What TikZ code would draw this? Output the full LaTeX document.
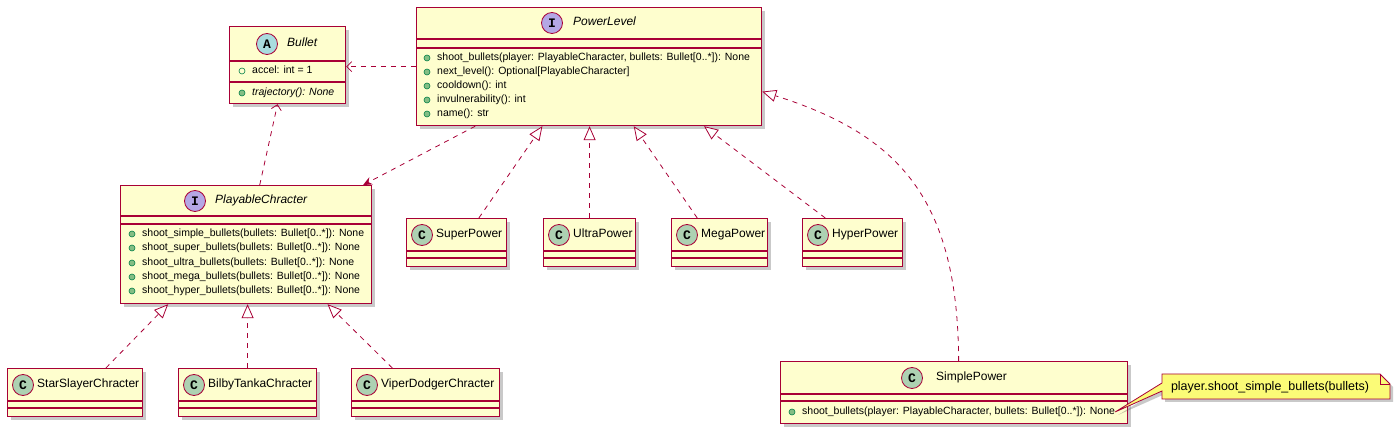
\documentclass[tikz,border=0pt]{standalone}
\usepackage{fontspec}
\setmainfont{Liberation Sans}
\newfontfamily\iconfont{Liberation Mono}
\usetikzlibrary{arrows.meta,calc,shadows}

\definecolor{umlred}{HTML}{A80036}
\definecolor{umlbg}{HTML}{FEFECE}
\definecolor{notebg}{HTML}{FBFB77}
\definecolor{iconC}{HTML}{ADD1B2}
\definecolor{iconA}{HTML}{A9DCDF}
\definecolor{iconI}{HTML}{B4A7E5}
\definecolor{pubfill}{HTML}{84BE84}
\definecolor{publine}{HTML}{038048}

\tikzset{
  cls/.style={draw=umlred, fill=umlbg, line width=1.2pt, inner sep=0pt, anchor=north west,
    drop shadow={shadow xshift=3pt, shadow yshift=-3pt, opacity=0.3, fill=black!70}},
  sepline/.style={draw=umlred, line width=1.2pt},
  icon/.style={circle, draw=umlred, line width=0.8pt, minimum size=21pt, inner sep=0pt,
    font=\iconfont\bfseries\fontsize{13}{13}\selectfont},
  title/.style={anchor=mid west, inner sep=0pt, font=\fontsize{12}{14}\selectfont},
  ititle/.style={title, font=\fontsize{12}{14}\selectfont\itshape},
  member/.style={anchor=mid west, inner sep=0pt, font=\fontsize{10.5}{12}\selectfont},
  pub/.style={circle, draw=publine, fill=pubfill, line width=0.6pt, minimum size=6pt, inner sep=0pt},
  field/.style={circle, draw=publine, fill=umlbg, line width=0.6pt, minimum size=6pt, inner sep=0pt},
  dep/.style={umlred, line width=0.8pt, dash pattern=on 5pt off 5pt, -{Straight Barb[length=5pt,width=10pt]}},
  depfill/.style={umlred, line width=0.8pt, dash pattern=on 5pt off 5pt, -{Stealth[length=9pt,width=8pt,inset=3pt]}},
  realize/.style={umlred, line width=0.8pt, dash pattern=on 5pt off 5pt, -{Triangle[length=14pt,width=12pt,fill=white]}},
  notebox/.style={draw=umlred, fill=notebg, line width=0.8pt,
    drop shadow={shadow xshift=3pt, shadow yshift=-3pt, opacity=0.3, fill=black!70}},
  notetext/.style={inner sep=0pt, font=\fontsize{12.5}{14}\selectfont},
}

\def\classbox(#1)(#2,#3)(#4,#5)(#6,#7){%
  \node[cls, minimum width={(#4-#2)*1pt}, minimum height={(#5-#3)*1pt}] (#1) at (#2,#3) {};
  \draw[sepline] (#2,#6) -- (#4,#6);
  \draw[sepline] (#2,#7) -- (#4,#7);
}
\def\pubmethod(#1)(#2,#3)#4{%
  \node[pub] (#1-d) at (#2,#3) {};
  \node[member] (#1) at (#2+10,#3) {#4};
}

\begin{document}
\begin{tikzpicture}[x=1pt, y=-1pt]
			%%%%% START %%%%%
			\useasboundingbox (0,0) rectangle (1395,435);
			
			% Bullet
			\classbox(bullet)(229,26)(345,103)(61,82)
			\node[icon, fill=iconA] (bullet-i) at (267,44) {A};
			\node[ititle] (bullet-t) at (287,44) {Bullet};
			\node[field] (bullet-f1-d) at (242,71) {};
			\node[member] (bullet-f1) at (252,71) {accel: int = 1};
			\pubmethod(bullet-m1)(242,93){\itshape trajectory(): None}
			
			% PowerLevel
			\classbox(pl)(416,7)(761,125)(39,48)
			\node[icon, fill=iconI] (pl-i) at (552,23) {I};
			\node[ititle] (pl-t) at (573,23) {PowerLevel};
			\pubmethod(pl-m1)(427,58){shoot\_bullets(player: PlayableCharacter, bullets: Bullet[0..*]): None}
			\pubmethod(pl-m2)(427,72){next\_level(): Optional[PlayableCharacter]}
			\pubmethod(pl-m3)(427,86){cooldown(): int}
			\pubmethod(pl-m4)(427,100){invulnerability(): int}
			\pubmethod(pl-m5)(427,114){name(): str}
			
			% PlayableChracter
			\classbox(plc)(120,185)(371,303)(216,224)
			\node[icon, fill=iconI] (plc-i) at (195,201) {I};
			\node[ititle] (plc-t) at (215,201) {PlayableChracter};
			\pubmethod(plc-m1)(132,234){shoot\_simple\_bullets(bullets: Bullet[0..*]): None}
			\pubmethod(plc-m2)(132,248){shoot\_super\_bullets(bullets: Bullet[0..*]): None}
			\pubmethod(plc-m3)(132,263){shoot\_ultra\_bullets(bullets: Bullet[0..*]): None}
			\pubmethod(plc-m4)(132,277){shoot\_mega\_bullets(bullets: Bullet[0..*]): None}
			\pubmethod(plc-m5)(132,291){shoot\_hyper\_bullets(bullets: Bullet[0..*]): None}
			
			% power levels
			\classbox(super)(406,218)(506,266)(251,258)
			\node[icon, fill=iconC] (super-i) at (422,235) {C};
			\node[title] (super-t) at (436,235) {SuperPower};
			\classbox(ultra)(543,218)(635,266)(251,258)
			\node[icon, fill=iconC] (ultra-i) at (559,235) {C};
			\node[title] (ultra-t) at (573,235) {UltraPower};
			\classbox(mega)(671,218)(767,266)(251,258)
			\node[icon, fill=iconC] (mega-i) at (687,235) {C};
			\node[title] (mega-t) at (701,235) {MegaPower};
			\classbox(hyper)(802,218)(902,266)(251,258)
			\node[icon, fill=iconC] (hyper-i) at (818,235) {C};
			\node[title] (hyper-t) at (832,235) {HyperPower};
			
			% characters
			\classbox(star)(7,368)(142,416)(401,408)
			\node[icon, fill=iconC] (star-i) at (23,385) {C};
			\node[title] (star-t) at (37,385) {StarSlayerChracter};
			\classbox(bilby)(178,368)(316,416)(401,408)
			\node[icon, fill=iconC] (bilby-i) at (194,385) {C};
			\node[title] (bilby-t) at (208,385) {BilbyTankaChracter};
			\classbox(viper)(351,368)(499,416)(401,408)
			\node[icon, fill=iconC] (viper-i) at (367,385) {C};
			\node[title] (viper-t) at (381,385) {ViperDodgerChracter};
			
			% SimplePower
			\classbox(simple)(780,361)(1127,423)(394,401)
			\node[icon, fill=iconC] (simple-i) at (912,378) {C};
			\node[title] (simple-t) at (936,378) {SimplePower};
			\pubmethod(simple-m1)(792,412){shoot\_bullets(player: PlayableCharacter, bullets: Bullet[0..*]): None}
			
			% note
			\draw[notebox] (1162,374) -- (1380,374) -- (1390,384) -- (1390,399) -- (1162,399) -- (1162,391) -- (simple-m1.east) -- (1162,383) -- cycle;
			\draw[umlred, line width=0.8pt] (1380,374) -- (1380,384) -- (1390,384);
			\node[notetext] (note) at (1270,387) {player.shoot\_simple\_bullets(bullets)};
			
			% dependencies
			\draw[dep] (pl.west) -- (pl.west -| bullet.east);
			\draw[dep] ($(plc.north west)!0.554!(plc.north east)$) -- ($(bullet.south west)!0.414!(bullet.south east)$);
			\draw[depfill] ($(pl.south west)!0.171!(pl.south east)$) -- ($(plc.north west)!0.964!(plc.north east)$);
			
			% realizations
			\draw[realize] ($(super.north west)!0.72!(super.north east)$) -- ($(pl.south west)!0.365!(pl.south east)$);
			\draw[realize] (ultra.north) -- (ultra.north |- pl.south);
			\draw[realize] ($(mega.north west)!0.27!(mega.north east)$) -- ($(pl.south west)!0.629!(pl.south east)$);
			\draw[realize] ($(hyper.north west)!0.23!(hyper.north east)$) -- ($(pl.south west)!0.832!(pl.south east)$);
			\draw[realize] ($(simple.north west)!0.513!(simple.north east)$) .. controls (958,200) and (900,135) .. ([yshift=-25pt]pl.east);
			
			\draw[realize] ($(star.north west)!0.726!(star.north east)$) -- ($(plc.south west)!0.191!(plc.south east)$);
			\draw[realize] (bilby.north) -- (bilby.north |- plc.south);
			\draw[realize] ($(viper.north west)!0.277!(viper.north east)$) -- ($(plc.south west)!0.823!(plc.south east)$);
			
			%%%%% END %%%%%
\end{tikzpicture}
\end{document}
